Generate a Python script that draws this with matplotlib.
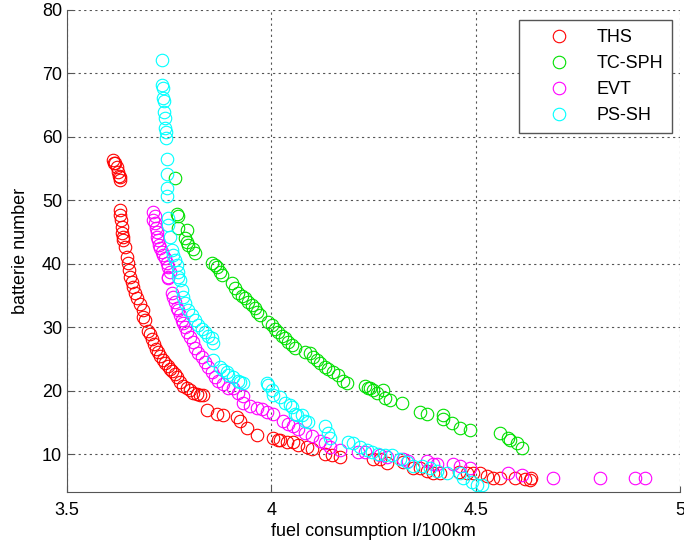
import matplotlib
matplotlib.use('Agg')
import matplotlib.pyplot as plt

plt.rcParams['font.family'] = ['Liberation Sans', 'DejaVu Sans']

# THS (red)
ths = [(3.613, 56.3), (3.617, 55.9), (3.622, 55.2), (3.625, 54.4), (3.630, 53.7), (3.630, 53.2),
       (3.614, 55.8), (3.626, 53.9),
       (3.630, 48.5), (3.630, 47.7), (3.632, 46.9), (3.635, 45.8), (3.635, 44.8), (3.637, 44.2),
       (3.638, 43.7), (3.642, 42.6), (3.647, 41.0), (3.648, 40.1), (3.652, 39.0), (3.655, 37.9),
       (3.659, 37.2), (3.661, 36.3), (3.666, 35.4), (3.671, 34.6), (3.679, 33.6), (3.686, 32.7),
       (3.686, 31.6), (3.692, 31.1), (3.698, 29.4), (3.703, 28.9), (3.708, 28.2), (3.713, 27.4),
       (3.718, 26.6), (3.723, 26.1), (3.728, 25.4), (3.734, 24.8), (3.740, 24.3), (3.746, 23.9),
       (3.752, 23.5), (3.758, 23.1), (3.764, 22.7), (3.770, 22.1), (3.776, 21.3), (3.784, 20.8),
       (3.794, 20.4), (3.801, 20.1), (3.808, 19.7), (3.818, 19.5), (3.825, 19.4), (3.833, 19.3),
       (3.843, 16.9), (3.867, 16.4), (3.882, 16.1), (3.916, 15.8), (3.923, 15.3), (3.940, 14.2),
       (3.965, 13.0), (4.004, 12.5), (4.016, 12.2), (4.021, 12.3), (4.038, 12.0), (4.053, 11.9),
       (4.065, 11.5), (4.087, 11.2), (4.100, 10.8), (4.131, 10.1), (4.148, 9.8), (4.168, 9.5),
       (4.249, 9.2), (4.266, 9.3), (4.283, 8.6), (4.322, 8.7), (4.347, 7.9), (4.364, 7.8),
       (4.381, 7.4), (4.396, 7.1), (4.413, 7.1), (4.460, 7.2), (4.479, 7.1), (4.493, 7.0),
       (4.510, 7.0), (4.527, 6.5), (4.542, 6.3), (4.559, 6.2), (4.596, 6.2), (4.620, 6.1),
       (4.633, 6.0), (4.636, 6.2)]

# TC-SPH (green)
tcsph = [(3.764, 53.5), (3.769, 47.9), (3.771, 47.6), (3.772, 45.6), (3.794, 45.3), (3.789, 44.0),
         (3.794, 43.4), (3.796, 42.9), (3.808, 42.4), (3.813, 41.7), (3.855, 40.1), (3.862, 39.8),
         (3.867, 39.5), (3.874, 38.7), (3.879, 38.2), (3.904, 36.9), (3.911, 36.2), (3.918, 35.4),
         (3.928, 35.0), (3.936, 34.6), (3.943, 33.9), (3.953, 33.5), (3.960, 33.0), (3.965, 32.4),
         (3.972, 31.9), (3.992, 30.8), (4.002, 30.3), (4.009, 29.8), (4.016, 29.2), (4.026, 28.7),
         (4.033, 28.3), (4.041, 27.6), (4.051, 27.2), (4.058, 26.8), (4.082, 26.1), (4.095, 25.9),
         (4.102, 25.3), (4.112, 24.8), (4.119, 24.3), (4.131, 23.7), (4.139, 23.5), (4.151, 22.9),
         (4.163, 22.4), (4.175, 21.6), (4.185, 21.2), (4.229, 20.7), (4.236, 20.5), (4.241, 20.4),
         (4.249, 20.1), (4.258, 19.7), (4.273, 20.1), (4.278, 18.8), (4.290, 18.5), (4.320, 18.0),
         (4.364, 16.6), (4.381, 16.4), (4.420, 16.1), (4.420, 15.6), (4.442, 14.9), (4.462, 14.1),
         (4.486, 13.8), (4.559, 13.4), (4.579, 12.6), (4.584, 12.2), (4.601, 11.7), (4.613, 10.9)]

# EVT (magenta)
evt = [(3.710, 48.1), (3.715, 47.6), (3.710, 46.9), (3.715, 46.4), (3.718, 45.6), (3.720, 45.0),
       (3.720, 44.2), (3.723, 43.7), (3.725, 42.9), (3.728, 42.5), (3.732, 41.8), (3.735, 41.4),
       (3.740, 40.9), (3.745, 40.1), (3.747, 39.5), (3.752, 38.7), (3.747, 37.9), (3.747, 37.8),
       (3.757, 35.4), (3.759, 34.7), (3.764, 33.9), (3.769, 33.1), (3.772, 32.7), (3.776, 31.9),
       (3.781, 31.1), (3.784, 30.6), (3.789, 30.0), (3.794, 29.2), (3.801, 28.4), (3.808, 27.6),
       (3.813, 26.8), (3.821, 26.0), (3.830, 25.3), (3.838, 24.5), (3.845, 23.7), (3.855, 22.9),
       (3.862, 22.1), (3.869, 21.6), (3.882, 21.1), (3.894, 20.5), (3.906, 20.4), (3.918, 19.7),
       (3.930, 19.2), (3.930, 18.1), (3.947, 17.6), (3.965, 17.3), (3.977, 17.2), (3.989, 16.6),
       (4.004, 16.4), (4.029, 15.3), (4.041, 14.8), (4.053, 14.5), (4.065, 14.0), (4.082, 13.4),
       (4.099, 12.9), (4.119, 12.1), (4.131, 11.7), (4.144, 11.1), (4.168, 10.6), (4.212, 10.3),
       (4.229, 10.3), (4.266, 9.8), (4.283, 9.5), (4.322, 9.3), (4.334, 9.0), (4.381, 9.0),
       (4.405, 8.5), (4.396, 8.5), (4.444, 8.5), (4.462, 8.2), (4.486, 7.9), (4.579, 7.1),
       (4.613, 6.7), (4.689, 6.3), (4.804, 6.3), (4.890, 6.2), (4.914, 6.2)]

# PS-SH (cyan)
pssh = [(3.732, 72.1), (3.732, 68.2), (3.735, 67.7), (3.735, 66.1), (3.737, 65.6), (3.737, 63.9),
        (3.740, 63.0), (3.740, 61.4), (3.742, 60.8), (3.742, 59.8), (3.745, 56.5), (3.745, 54.1),
        (3.745, 51.9), (3.745, 50.7), (3.747, 47.2), (3.747, 46.1), (3.752, 44.2), (3.757, 42.1),
        (3.759, 41.4), (3.764, 40.6), (3.769, 39.8), (3.772, 38.7), (3.772, 37.9), (3.776, 37.4),
        (3.781, 35.8), (3.784, 34.7), (3.789, 33.8), (3.796, 32.7), (3.806, 31.9), (3.813, 31.1),
        (3.821, 30.3), (3.830, 29.8), (3.838, 29.2), (3.845, 28.7), (3.855, 28.3), (3.857, 27.5),
        (3.857, 24.8), (3.874, 23.7), (3.882, 23.2), (3.891, 22.9), (3.894, 22.4), (3.906, 22.1),
        (3.918, 21.6), (3.923, 21.4), (3.930, 21.2), (3.989, 21.2), (3.992, 20.9), (4.002, 20.1),
        (4.004, 19.3), (4.021, 19.0), (4.033, 18.0), (4.046, 17.7), (4.051, 17.5), (4.058, 16.4),
        (4.063, 16.2), (4.075, 16.1), (4.082, 15.3), (4.090, 15.0), (4.131, 14.5), (4.139, 13.4),
        (4.144, 12.6), (4.188, 11.9), (4.200, 11.7), (4.217, 11.1), (4.234, 10.6), (4.246, 10.3),
        (4.261, 10.1), (4.278, 9.8), (4.295, 9.8), (4.315, 9.3), (4.332, 8.7), (4.347, 8.2),
        (4.369, 8.2), (4.388, 7.9), (4.405, 7.4), (4.430, 7.0), (4.462, 7.0), (4.469, 6.2),
        (4.491, 5.6), (4.503, 5.1), (4.515, 5.1)]

series = [('THS', ths, '#ff0000'),
          ('TC-SPH', tcsph, '#00e000'),
          ('EVT', evt, '#ff00ff'),
          ('PS-SH', pssh, '#00ffff')]

x_ticks = [3.5, 4, 4.5, 5]
x_tick_labels = ['3.5', '4', '4.5', '5']
y_ticks = [10, 20, 30, 40, 50, 60, 70, 80]

fig = plt.figure(figsize=(6.84, 5.47), dpi=100)
ax = fig.add_axes([0.098, 0.1, 0.896, 0.882])

for name, pts, col in series:
    xs = [p[0] for p in pts]
    ys = [p[1] for p in pts]
    ax.plot(xs, ys, 'o', linestyle='none', markerfacecolor='none',
            markeredgecolor=col, markersize=9, markeredgewidth=0.8, label=name)

ax.set_xlim(3.5, 5)
ax.set_ylim(4, 80)
ax.set_xticks(x_ticks)
ax.set_xticklabels(x_tick_labels)
ax.set_yticks(y_ticks)
ax.tick_params(direction='in', labelsize=13, length=4, color='#555555')
ax.tick_params(axis='x', pad=7)
ax.grid(True, linestyle=(0, (2, 3)), color='#555555', linewidth=0.8)
for s in ['top', 'right']:
    ax.spines[s].set_visible(False)
for s in ['left', 'bottom']:
    ax.spines[s].set_color('#555555')

ax.set_xlabel('fuel consumption l/100km', fontsize=13, labelpad=3)
ax.set_ylabel('batterie number', fontsize=13, labelpad=9)

leg = ax.legend(loc='upper right', bbox_to_anchor=(0.987, 0.979), borderaxespad=0,
                fontsize=13, fancybox=False, framealpha=1, edgecolor='#555555',
                borderpad=0.5, labelspacing=0.5, handletextpad=0.3, handlelength=3.5)
leg.get_frame().set_linewidth(1.0)

fig.savefig('out.png', dpi=100)
